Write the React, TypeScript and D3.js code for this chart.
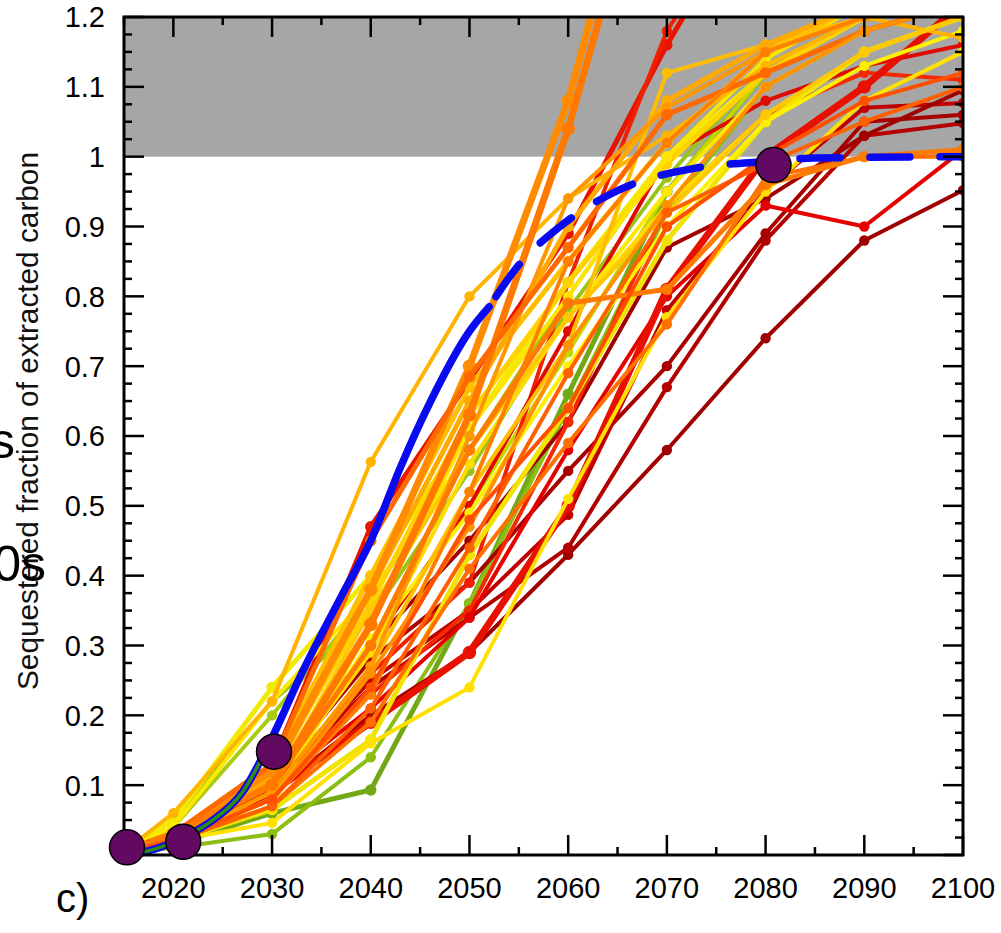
import React from 'react';
import * as d3 from 'd3';

const YEARS = [2015, 2020, 2030, 2040, 2050, 2060, 2070, 2080, 2090, 2100];

// values for 2015, 2020, 2030, ..., 2100
const GREEN_COLORS = ['#72a816', '#a8cc10', '#98c41a', '#c4d800', '#8cbe14'];
const GREEN_WIDTHS = [5, 4, 4, 4, 4];
const GREEN_SERIES = [
  [0.005, 0.015, 0.06, 0.093, 0.36, 0.66, 0.95, 1.12, 1.2, 1.25],
  [0.005, 0.04, 0.2, 0.37, 0.58, 0.8, 1.0, 1.14, 1.22, 1.26],
  [0.005, 0.05, 0.22, 0.34, 0.55, 0.78, 0.97, 1.13, 1.2, 1.24],
  [0.005, 0.02, 0.1, 0.3, 0.5, 0.72, 0.95, 1.12, 1.2, 1.24],
  [0.005, 0.01, 0.03, 0.14, 0.36, 0.64, 0.92, 1.1, 1.18, 1.22],
];

const YELLOW_COLORS = ['#f2ea00', '#ffe800', '#f0e400', '#ffe000', '#fff000', '#ffdc00', '#ffd200', '#ffe400'];
const YELLOW_WIDTHS = [5, 4, 5, 4, 4, 4, 5, 4];
const YELLOW_SERIES = [
  [0.005, 0.05, 0.24, 0.4, 0.61, 0.82, 1.0, 1.12, 1.2, 1.25],
  [0.005, 0.04, 0.22, 0.375, 0.58, 0.77, 0.95, 1.1, 1.18, 1.22],
  [0.005, 0.02, 0.065, 0.165, 0.43, 0.64, 0.88, 1.05, 1.15, 1.2],
  [0.005, 0.02, 0.046, 0.16, 0.24, 0.51, 0.77, 0.95, 1.08, 1.15],
  [0.005, 0.02, 0.08, 0.31, 0.49, 0.7, 0.9, 1.05, 1.13, 1.18],
  [0.005, 0.03, 0.1, 0.29, 0.56, 0.77, 0.93, 1.06, 1.15, 1.2],
  [0.005, 0.03, 0.12, 0.36, 0.63, 0.82, 0.99, 1.12, 1.2, 1.25],
  [0.005, 0.02, 0.07, 0.33, 0.61, 0.8, 1.0, 1.14, 1.22, 1.28],
];

const GOLD_COLORS = ['#ffb400', '#ffc000', '#ffc800', '#ffbe00', '#ffaa00'];
const GOLD_WIDTHS = [4, 5, 4, 4, 5];
const GOLD_SERIES = [
  [0.005, 0.06, 0.22, 0.563, 0.8, 0.94, 1.03, 1.13, 1.2, 1.17],
  [0.005, 0.03, 0.13, 0.4, 0.67, 0.85, 1.02, 1.15, 1.22, 1.28],
  [0.005, 0.03, 0.1, 0.35, 0.58, 0.77, 0.92, 1.06, 1.15, 1.2],
  [0.005, 0.02, 0.09, 0.27, 0.52, 0.73, 1.12, 1.16, 1.2, 1.22],
  [0.005, 0.03, 0.11, 0.38, 0.65, 0.9, 1.08, 1.16, 1.22, 1.3],
];

const ORANGE_COLORS = ['#ff8c00', '#ff7800', '#ff9800', '#ff6a00', '#ff8000', '#ff7000', '#ff9000', '#ff6000', '#ff7a00', '#ff5000'];
const ORANGE_WIDTHS = [7, 7, 4, 5, 4, 4, 4, 4, 5, 4];
const ORANGE_SERIES = [
  [0.005, 0.03, 0.12, 0.38, 0.7, 1.08, 1.6, 1.8, 1.9, 2.0],
  [0.005, 0.03, 0.1, 0.33, 0.63, 1.04, 1.54, 1.8, 1.9, 2.0],
  [0.005, 0.02, 0.09, 0.27, 0.6, 0.94, 1.07, 1.15, 1.2, 1.25],
  [0.005, 0.03, 0.13, 0.45, 0.685, 0.87, 1.06, 1.12, 1.18, 1.22],
  [0.005, 0.02, 0.08, 0.23, 0.52, 0.85, 1.02, 1.15, 1.2, 1.25],
  [0.005, 0.02, 0.07, 0.19, 0.41, 0.59, 0.76, 0.97, 1.0, 1.0],
  [0.005, 0.02, 0.08, 0.26, 0.47, 0.73, 0.93, 1.1, 1.18, 1.22],
  [0.005, 0.02, 0.07, 0.21, 0.44, 0.69, 0.92, 0.99, 1.05, 1.1],
  [0.005, 0.03, 0.1, 0.3, 0.58, 0.79, 0.81, 0.96, 1.0, 1.01],
  [0.005, 0.02, 0.08, 0.24, 0.48, 0.64, 0.9, 1.0, 1.08, 1.12],
];

const RED_COLORS = ['#e81400', '#f02000', '#e00a00', '#f52800', '#e60000', '#e81000'];
const RED_WIDTHS = [5, 4, 4, 4, 4, 7];
const RED_SERIES = [
  [0.005, 0.03, 0.13, 0.47, 0.68, 0.89, 1.16, 1.4, 1.5, 1.6],
  [0.005, 0.02, 0.1, 0.26, 0.39, 0.82, 1.18, 1.4, 1.5, 1.6],
  [0.005, 0.02, 0.11, 0.3, 0.5, 0.75, 1.0, 1.08, 1.13, 1.16],
  [0.005, 0.02, 0.1, 0.23, 0.35, 0.62, 0.93, 1.06, 1.12, 1.11],
  [0.005, 0.02, 0.1, 0.21, 0.34, 0.58, 0.8, 0.93, 0.9, 1.01],
  [0.005, 0.02, 0.09, 0.19, 0.29, 0.5, 0.81, 1.0, 1.1, 1.22],
];

const DARKRED_COLORS = ['#a00000', '#b40000', '#a80000', '#c00000', '#a00000'];
const DARKRED_WIDTHS = [4, 4, 4, 4, 4];
const DARKRED_SERIES = [
  [0.005, 0.02, 0.09, 0.2, 0.29, 0.43, 0.58, 0.74, 0.88, 0.952],
  [0.005, 0.02, 0.1, 0.24, 0.34, 0.44, 0.67, 0.88, 1.03, 1.048],
  [0.005, 0.02, 0.11, 0.28, 0.39, 0.55, 0.7, 0.89, 1.05, 1.06],
  [0.005, 0.02, 0.1, 0.25, 0.35, 0.487, 0.78, 0.952, 1.07, 1.077],
  [0.005, 0.02, 0.11, 0.3, 0.45, 0.62, 0.87, 0.94, 1.03, 1.095],
];

const BLUE_YEARS = [2015, 2018, 2021, 2024, 2027, 2030, 2033, 2037, 2040, 2043, 2046, 2050, 2052, 2055, 2059, 2064.5, 2073, 2079, 2085, 2100];
const BLUE_VALUES = [0.0, 0.008, 0.025, 0.05, 0.09, 0.168, 0.26, 0.37, 0.45, 0.555, 0.648, 0.75, 0.785, 0.845, 0.898, 0.948, 0.984, 0.992, 0.998, 1.0];
const BLUE_SOLID_END = 2052;
const BLUE_INNER_END = 2030;

const PURPLE_YEARS = [2015.3, 2021, 2030.2, 2080.8];
const PURPLE_VALUES = [0.011, 0.019, 0.148, 0.988];

const X_TICKS = [2020, 2030, 2040, 2050, 2060, 2070, 2080, 2090, 2100];
const X_MINOR = [2015, 2025, 2035, 2045, 2055, 2065, 2075, 2085, 2095];
const Y_TICKS = [0.1, 0.2, 0.3, 0.4, 0.5, 0.6, 0.7, 0.8, 0.9, 1.0, 1.1, 1.2];
const Y_TICK_LABELS = ['0.1', '0.2', '0.3', '0.4', '0.5', '0.6', '0.7', '0.8', '0.9', '1', '1.1', '1.2'];

const Y_TITLE = 'Sequestered fraction of extracted carbon';

const W = 1001;
const H = 933;
const L = 124, R = 963, T = 17, B = 855;

export default function App() {
  const x = d3.scaleLinear().domain([2015, 2100]).range([L, R]);
  const y = d3.scaleLinear().domain([0, 1.2]).range([B, T]);

  // drawing order (bottom to top)
  const groups = [
    { colors: GREEN_COLORS, widths: GREEN_WIDTHS, series: GREEN_SERIES },
    { colors: DARKRED_COLORS, widths: DARKRED_WIDTHS, series: DARKRED_SERIES },
    { colors: RED_COLORS, widths: RED_WIDTHS, series: RED_SERIES },
    { colors: YELLOW_COLORS, widths: YELLOW_WIDTHS, series: YELLOW_SERIES },
    { colors: GOLD_COLORS, widths: GOLD_WIDTHS, series: GOLD_SERIES },
    { colors: ORANGE_COLORS, widths: ORANGE_WIDTHS, series: ORANGE_SERIES },
  ];

  const line = d3.line<[number, number]>().x((d) => x(d[0])).y((d) => y(d[1]));
  const curve = d3
    .line<[number, number]>()
    .x((d) => x(d[0]))
    .y((d) => y(d[1]))
    .curve(d3.curveMonotoneX);

  const bluePts: [number, number][] = BLUE_YEARS.map((yr, i) => [yr, BLUE_VALUES[i]]);
  const solidPts = bluePts.filter((p) => p[0] <= BLUE_SOLID_END);
  const dashPts = bluePts.filter((p) => p[0] >= BLUE_SOLID_END);
  const innerPts = bluePts.filter((p) => p[0] <= BLUE_INNER_END);

  const yMinor = d3.range(0, 1.2001, 0.025).filter((v) => Math.abs(Math.round(v * 10) - v * 10) > 1e-6);
  const yMajor = d3.range(0, 1.2001, 0.1);

  const font = 'Liberation Sans, Arial, sans-serif';

  return (
    <svg width={W} height={H} style={{ position: 'absolute', left: 0, top: 0, background: '#fff' }}>
      <defs>
        <clipPath id="plotclip">
          <rect x={L} y={T} width={R - L} height={B - T} />
        </clipPath>
      </defs>
      <rect x={0} y={0} width={W} height={H} fill="#fff" />
      <rect x={L} y={y(1.2)} width={R - L} height={y(1.0) - y(1.2)} fill="#a6a6a6" />

      <g clipPath="url(#plotclip)">
        {groups.map((g, gi) =>
          g.series.map((vals, si) => {
            const pts: [number, number][] = YEARS.map((yr, i) => [yr, vals[i]]);
            const col = g.colors[si];
            const w = g.widths[si];
            return (
              <g key={`s${gi}-${si}`}>
                <path d={line(pts) || ''} fill="none" stroke={col} strokeWidth={w} strokeLinejoin="round" strokeLinecap="round" />
                {pts.slice(1).map((p, k) => (
                  <circle key={k} cx={x(p[0])} cy={y(p[1])} r={w * 0.5 + 3.2} fill={col} />
                ))}
              </g>
            );
          })
        )}
        <path d={curve(solidPts) || ''} fill="none" stroke="#0a0af0" strokeWidth={7.5} strokeLinecap="round" />
        <path d={curve(innerPts) || ''} fill="none" stroke="#2f8a12" strokeWidth={3.5} strokeLinecap="round" />
        <path
          d={curve(dashPts) || ''}
          fill="none"
          stroke="#0a0af0"
          strokeWidth={7.5}
          strokeLinecap="round"
          strokeDasharray="40 30"
          strokeDashoffset={-12}
        />
      </g>

      {/* frame */}
      <rect x={L} y={T} width={R - L} height={B - T} fill="none" stroke="#000" strokeWidth={3} />

      {/* y ticks left & right */}
      {yMajor.map((v, i) => (
        <g key={`ym${i}`}>
          <line x1={L} x2={L + 20} y1={y(v)} y2={y(v)} stroke="#000" strokeWidth={2.5} />
          <line x1={R} x2={R - 20} y1={y(v)} y2={y(v)} stroke="#000" strokeWidth={2.5} />
        </g>
      ))}
      {yMinor.map((v, i) => (
        <g key={`yn${i}`}>
          <line x1={L} x2={L + 8} y1={y(v)} y2={y(v)} stroke="#000" strokeWidth={2.5} />
          <line x1={R} x2={R - 8} y1={y(v)} y2={y(v)} stroke="#000" strokeWidth={2.5} />
        </g>
      ))}
      {/* x ticks bottom & top */}
      {X_TICKS.map((t) => (
        <g key={`xm${t}`}>
          <line x1={x(t)} x2={x(t)} y1={B} y2={B - 20} stroke="#000" strokeWidth={2.5} />
          <line x1={x(t)} x2={x(t)} y1={T} y2={T + 20} stroke="#000" strokeWidth={2.5} />
        </g>
      ))}
      {X_MINOR.map((t) => (
        <g key={`xn${t}`}>
          <line x1={x(t)} x2={x(t)} y1={B} y2={B - 8} stroke="#000" strokeWidth={2.5} />
          <line x1={x(t)} x2={x(t)} y1={T} y2={T + 8} stroke="#000" strokeWidth={2.5} />
        </g>
      ))}

      {/* purple markers */}
      {PURPLE_YEARS.map((yr, i) => (
        <circle key={`p${i}`} cx={x(yr)} cy={y(PURPLE_VALUES[i])} r={17.5} fill="#620a62" stroke="#000" strokeWidth={1.5} />
      ))}

      {/* tick labels */}
      {Y_TICKS.map((v, i) => (
        <text key={`yl${i}`} x={105} y={y(v)} dy="0.36em" textAnchor="end" fontFamily={font} fontSize={29} fill="#000">
          {Y_TICK_LABELS[i]}
        </text>
      ))}
      {X_TICKS.map((t) => (
        <text key={`xl${t}`} x={x(t)} y={898} textAnchor="middle" fontFamily={font} fontSize={29} fill="#000">
          {t}
        </text>
      ))}

      {/* y title */}
      <text
        transform={`translate(38,421) rotate(-90)`}
        textAnchor="middle"
        fontFamily={font}
        fontSize={29}
        textLength={538}
        lengthAdjust="spacingAndGlyphs"
        fill="#111"
      >
        {Y_TITLE}
      </text>

      {/* panel label and fragments of neighbouring panel */}
      <text x={56} y={912} fontFamily={font} fontSize={40} fill="#000">c)</text>
      <text x={15} y={458} textAnchor="end" fontFamily={font} fontSize={50} fill="#000">s</text>
      <text x={46} y={581} textAnchor="end" fontFamily={font} fontSize={50} fill="#000">0s</text>
    </svg>
  );
}
